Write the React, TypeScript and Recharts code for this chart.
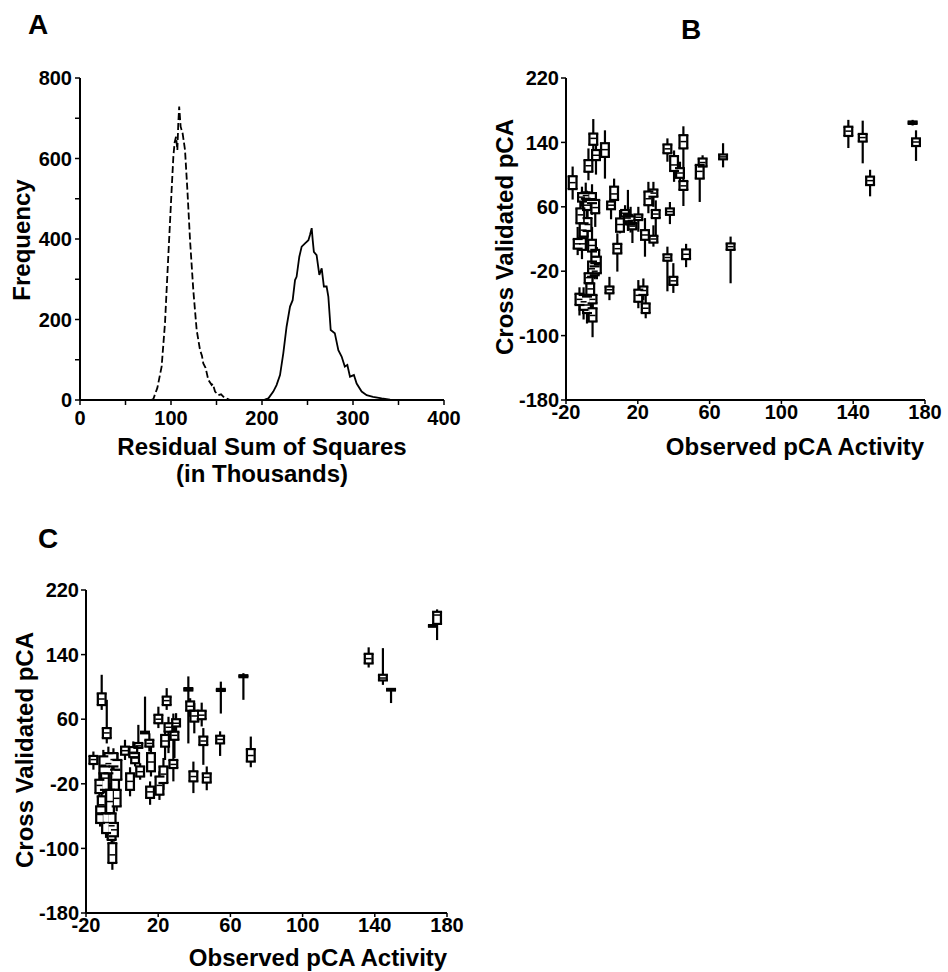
import { ComposedChart, ScatterChart, Line, Scatter, ErrorBar, XAxis, YAxis } from "recharts";

const FONT = '"Liberation Sans", Arial, Helvetica, sans-serif';

// Panel A: frequency of the residual sum of squares (in thousands)
const dashedRss = [78, 80.5, 85, 89.7, 93.4, 97, 100.7, 102.6, 104, 105.5, 107, 108, 109, 110.6, 112.8, 115.4, 118, 120.9, 124.5, 128.2, 131.9, 134, 135.5, 138, 141, 144.7, 146, 148.4, 152, 155, 159, 162, 165];
const dashedFreq = [0, 2, 30, 83, 191, 356, 522, 605, 640, 654, 621, 687, 729, 679, 662, 621, 522, 398, 273, 174, 124, 110, 91, 80, 50, 37, 40, 21, 12, 14, 5, 3, 0];
const solidRss = [198, 203, 207, 212.4, 216, 219.8, 223.4, 227, 230.8, 233.7, 236.3, 238, 241, 243.6, 247.3, 251, 252.7, 254.6, 255.7, 257, 260, 263, 265.6, 268, 271, 272.9, 275.5, 280, 283.9, 287.5, 291, 293.8, 296.7, 301, 304, 309.5, 315, 322, 331.5, 340.7, 350];
const solidFreq = [0, 1, 4, 21, 37, 62, 116, 182, 232, 248, 298, 306, 356, 381, 389, 397, 410, 427, 398, 368, 360, 311, 327, 282, 282, 257, 174, 166, 124, 108, 83, 87, 58, 62, 41, 21, 12, 8, 4, 1, 0];

const rssTicks = [0, 50, 100, 150, 200, 250, 300, 350, 400];
const freqTicks = [0, 100, 200, 300, 400, 500, 600, 700, 800];
const activityTicks = [-20, 20, 60, 100, 140, 180];
const predictedTicks = [-180, -100, -20, 60, 140, 220];

// Panels B and C: [observed, whisker low, q1, median, q3, whisker high]
type Box = [number, number, number, number, number, number];

const boxesB: Box[] = [
  [137.3, 133, 148, 154, 159.5, 168],
  [145.3, 114, 141, 146, 150.5, 167],
  [149.4, 73, 87, 92.5, 97.5, 106],
  [173.1, 161, 163, 164.5, 166, 168],
  [175, 117, 135.5, 140.5, 145, 155],
  [67.5, 109, 119, 122, 125, 139],
  [71.7, -35, 6.5, 10.5, 14.5, 23],
  [54.5, 66, 95, 104, 112, 118],
  [56.1, 106, 110, 115, 120, 124],
  [36.5, 116, 126.5, 132, 137.5, 145],
  [40.2, 91, 104.5, 112, 123, 130],
  [45.4, 108, 132.5, 141, 149, 160],
  [43.5, 90, 96, 102, 108, 116],
  [45.4, 61, 81, 86, 92, 100],
  [37.9, 38.5, 50, 54, 58, 66],
  [36.5, -45, -7, -3, 1, 10.5],
  [39.8, -47, -37, -32, -27, -10],
  [46.9, -15, -5, 1, 7, 14],
  [25.9, 52, 62, 70, 79, 91],
  [28.7, 60, 72.5, 77, 81.5, 91],
  [30, 23, 46, 51, 56, 68],
  [24, -2, 19, 25, 31, 46],
  [28.7, 10.5, 15.5, 20, 24, 37],
  [20.3, 29, 43.5, 47, 50.5, 60],
  [14.5, 30, 42, 46, 50, 81],
  [16, 28, 38, 43, 48, 60],
  [17, 15, 32, 36, 40, 48],
  [10.1, 27, 29, 38, 45.5, 56],
  [12.9, 37, 48, 52, 56, 62],
  [8.6, -20.5, 2, 8, 14, 27],
  [6.8, 58, 68.5, 76, 85, 95],
  [5.1, 44.5, 57, 62, 66.5, 77],
  [4.2, -56, -47.5, -43, -39, -27],
  [1.7, 95, 122, 131, 139, 155],
  [-4.8, 124, 137, 145, 151, 169],
  [-3.3, 100, 118, 124, 130.5, 143],
  [-7.5, 93, 103.5, 111, 118, 132.5],
  [-16.3, 69, 82, 90, 98, 110],
  [20.3, -66, -58, -50, -43, -31],
  [23.1, -56, -49.5, -44, -39, -29],
  [24.4, -78.5, -72, -66, -60, -49.5],
  [-11.1, 60, 66.5, 72, 77, 85],
  [-12, 30, 39.5, 50, 58, 70],
  [-8.3, 45, 56, 62, 68.5, 80],
  [-5.5, 50, 64.5, 70, 77, 88],
  [-3.7, 35, 52, 59, 68.5, 75],
  [-5.5, -5, 4.5, 12, 19, 35],
  [-11.1, -5, 6.5, 14, 21, 30],
  [-10.2, 15, 23, 31, 39.5, 55],
  [-3.7, -20, -10, -2, 6.5, 15],
  [-2.8, -30, -22.5, -12, -2, 10],
  [-5.5, -35, -27, -17, -8, 5],
  [-7.4, -45, -35, -28, -22.5, -10],
  [-6.5, -58, -49.5, -42, -35, -25],
  [-5.2, -65, -60, -55, -49.5, -40],
  [-10.2, -80, -68, -58, -49.5, -40],
  [-8.3, -85, -72, -62, -51.5, -45],
  [-5.2, -102, -82.5, -75, -66, -55],
  [-13.5, 0, 8, 14, 20, 35],
  [-12.5, -75, -62, -55, -48, -40],
  [-9, 62, 70, 74, 78, 90],
  [-8, 20, 30, 38, 46, 58],
  [-4, -30, -25, -20, -14, -5],
];

const boxesC: Box[] = [
  [136.6, 124, 129, 135, 141, 149],
  [144.5, 102.5, 108, 111, 115, 148],
  [149, 80, 95.5, 96.5, 97.5, 98],
  [172.2, 174, 174.5, 175.5, 176.5, 177],
  [174.5, 158, 178, 189, 193, 196],
  [67.2, 84, 112, 113, 114.5, 117],
  [71.3, 0.5, 7.5, 15, 23, 38.5],
  [54.7, 67, 95, 96.3, 97.5, 106.5],
  [54.3, 14.5, 30, 35, 39.5, 45],
  [36.7, 30, 95.5, 97, 98.5, 113],
  [37.7, 63, 70.5, 76, 82, 86],
  [40, 42.5, 57, 64, 70.5, 80],
  [44.1, 51, 60, 65, 70.5, 80.5],
  [45, 3.5, 28, 33, 38.5, 49],
  [39.5, -31.5, -17, -11, -4.5, 7.5],
  [46.9, -28, -18.5, -12, -7, 1.5],
  [28.4, -17, -0.5, 4, 9.5, 67],
  [29, 12, 34.5, 40, 44.5, 59],
  [29.9, 42.5, 51, 55, 60, 67.5],
  [24.7, 71.5, 77.5, 83, 88, 98.5],
  [23.8, 9.5, 26, 33, 40.5, 55],
  [25.7, 18, 44.5, 50, 55, 63],
  [22.9, -27.5, -19, -8, 1.5, 12],
  [20.1, 49, 55, 60, 65.5, 75.5],
  [20.7, -40, -33.5, -22, -11, -4.5],
  [15.5, -46, -37.5, -30, -23.5, -17],
  [16, -11, -4.5, 7, 18, 26],
  [12.7, 42, 42.5, 43.5, 44.5, 88],
  [15.1, 20, 26, 30, 34.5, 42.5],
  [9, 24, 24.5, 27, 30.5, 53],
  [10, -15, -11, -5, 1.5, 5.5],
  [6.2, 7.5, 13, 19, 25.5, 32.5],
  [4.4, -35.5, -27.5, -17, -7, 0.5],
  [1.6, 9.5, 16, 21, 26, 34.5],
  [7.2, 1.5, 5.5, 12, 18, 26],
  [-15.9, -2.5, 4.5, 10, 14.5, 20],
  [-11.3, 71.5, 77.5, 85, 92, 115],
  [-8.5, 30, 36.5, 43, 49, 84],
  [-12.6, -40, -31.5, -22, -15, -7],
  [-11.3, -62.5, -56.5, -46, -35.5, -27.5],
  [-9.5, -31.5, -27.5, -13, 1.5, 9.5],
  [-7.6, -13, -7, 5, 18, 26],
  [-8.9, -87, -81, -68, -56.5, -48],
  [-6.7, -64.5, -56.5, -42, -27.5, -19],
  [-4.8, -4.5, 1.5, 10, 18, 24],
  [-3.9, -31.5, -27.5, -15, -2.5, 5.5],
  [-3, -54, -48, -38, -27.5, -19],
  [-5.8, -97.5, -89.5, -72, -56.5, -48],
  [-5.4, -126.5, -118, -108, -93.5, -85],
  [-2.6, -23.5, -15, -3, 9.5, 18],
  [-4.5, -91.5, -85, -77, -68.5, -60.5],
  [-10.4, -15, -7, 3, 14, 22],
  [-12.2, -73, -68.5, -58, -48, -44],
];

const tickStyle = { fill: "#000", fontSize: 20, fontWeight: 700, fontFamily: FONT };
const axisLine = { stroke: "#000", strokeWidth: 2 };
const tickLine = { stroke: "#000", strokeWidth: 1.5 };

const Title = ({ x, y, size = 24, rotate = false, children }: any) => (
  <div
    style={{
      position: "absolute",
      left: x,
      top: y,
      transform: `translate(-50%, -50%)${rotate ? " rotate(-90deg)" : ""}`,
      fontFamily: FONT,
      fontWeight: 700,
      fontSize: size,
      lineHeight: 1,
      whiteSpace: "nowrap",
      color: "#000",
    }}
  >
    {children}
  </div>
);

// error bar values are offsets from the median
const row = (d: any) => d.payload ?? d;
const whiskerSpan = (d: any) => {
  const p = row(d);
  return [p.med - p.lo, p.hi - p.med];
};
const boxSpan = (d: any) => {
  const p = row(d);
  return [p.med - p.q1, p.q3 - p.med];
};

const edgeLine = (w: number, sw: number) => (p: any) =>
  <line x1={p.cx - w} x2={p.cx + w} y1={p.cy} y2={p.cy} stroke="#000" strokeWidth={sw} />;

function BoxPanel({ boxes, left, top, width, height, margin }: any) {
  const rows = boxes.map(([x, lo, q1, med, q3, hi]: Box) => ({ x, y: med, lo, q1, med, q3, hi }));
  const upper = rows.map((r: any) => ({ x: r.x, y: r.q3 }));
  const lower = rows.map((r: any) => ({ x: r.x, y: r.q1 }));
  return (
    <div style={{ position: "absolute", left, top }}>
      <ScatterChart width={width} height={height} margin={margin}>
        <XAxis
          type="number"
          dataKey="x"
          domain={[-20, 180]}
          ticks={activityTicks}
          interval={0}
          height={40}
          tick={tickStyle}
          axisLine={axisLine}
          tickLine={tickLine}
          tickSize={4}
          tickMargin={1}
          allowDataOverflow
        />
        <YAxis
          type="number"
          dataKey="y"
          domain={[-180, 220]}
          ticks={predictedTicks}
          interval={0}
          width={60}
          tick={tickStyle}
          axisLine={axisLine}
          tickLine={tickLine}
          tickSize={5}
          tickMargin={2}
          allowDataOverflow
        />
        <Scatter data={rows} shape={edgeLine(3, 1.5)} isAnimationActive={false}>
          <ErrorBar dataKey={whiskerSpan} direction="y" width={0} stroke="#000" strokeWidth={2.2} isAnimationActive={false} />
          <ErrorBar dataKey={boxSpan} direction="y" width={0} stroke="#000" strokeWidth={10} isAnimationActive={false} />
          <ErrorBar dataKey={boxSpan} direction="y" width={0} stroke="#fff" strokeWidth={5.5} isAnimationActive={false} />
        </Scatter>
        <Scatter data={upper} shape={edgeLine(5, 2.2)} isAnimationActive={false} />
        <Scatter data={lower} shape={edgeLine(5, 2.2)} isAnimationActive={false} />
      </ScatterChart>
    </div>
  );
}

export default function App() {
  const dashed = dashedRss.map((x, i) => ({ x, y: dashedFreq[i] }));
  const solid = solidRss.map((x, i) => ({ x, y: solidFreq[i] }));

  return (
    <div style={{ position: "absolute", left: 0, top: 0, width: 948, height: 972, background: "#fff" }}>
      {/* A */}
      <div style={{ position: "absolute", left: 0, top: 0 }}>
        <ComposedChart width={470} height={490} margin={{ top: 78, left: 20, right: 26, bottom: 50 }}>
          <XAxis
            type="number"
            dataKey="x"
            domain={[0, 400]}
            ticks={rssTicks}
            interval={0}
            height={40}
            tickFormatter={(v: number) => (v % 100 === 0 ? String(v) : "")}
            tick={tickStyle}
            axisLine={axisLine}
            tickLine={tickLine}
            tickSize={5}
            tickMargin={6}
          />
          <YAxis
            type="number"
            domain={[0, 800]}
            ticks={freqTicks}
            interval={0}
            width={60}
            tickFormatter={(v: number) => (v % 200 === 0 ? String(v) : "")}
            tick={tickStyle}
            axisLine={axisLine}
            tickLine={tickLine}
            tickSize={5}
            tickMargin={3}
          />
          <Line data={dashed} dataKey="y" type="linear" stroke="#000" strokeWidth={1.8} strokeDasharray="7 3" dot={false} isAnimationActive={false} />
          <Line data={solid} dataKey="y" type="linear" stroke="#000" strokeWidth={1.8} dot={false} isAnimationActive={false} />
        </ComposedChart>
      </div>

      <BoxPanel boxes={boxesB} left={474} top={0} width={474} height={480} margin={{ top: 78, left: 32, right: 23, bottom: 40 }} />
      <BoxPanel boxes={boxesC} left={0} top={500} width={474} height={472} margin={{ top: 90, left: 26, right: 27, bottom: 19 }} />

      <Title x={38} y={25} size={28}>A</Title>
      <Title x={691} y={30} size={28}>B</Title>
      <Title x={48} y={539} size={28}>C</Title>

      <Title x={22} y={240} rotate>Frequency</Title>
      <Title x={262} y={447}>Residual Sum of Squares</Title>
      <Title x={262} y={474}>(in Thousands)</Title>

      <Title x={505} y={237} rotate>Cross Validated pCA</Title>
      <Title x={795} y={447}>Observed pCA Activity</Title>

      <Title x={25} y={750} rotate>Cross Validated pCA</Title>
      <Title x={318} y={958}>Observed pCA Activity</Title>
    </div>
  );
}
